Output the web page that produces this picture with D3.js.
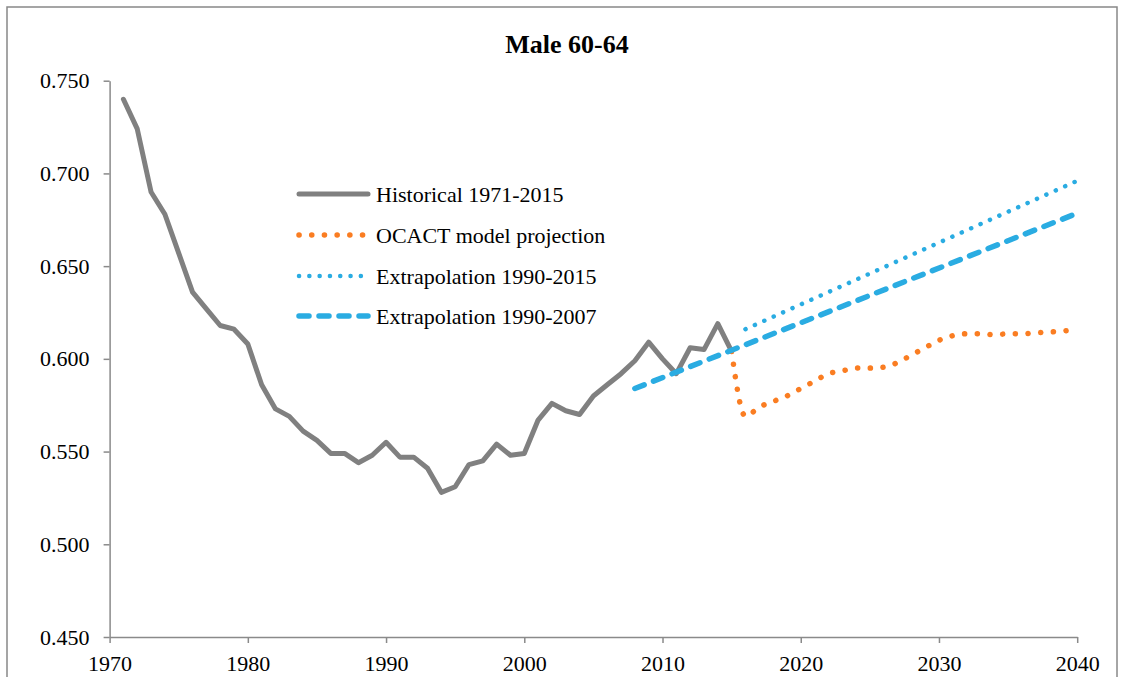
<!DOCTYPE html>
<html>
<head>
<meta charset="utf-8">
<script src="https://cdn.jsdelivr.net/npm/d3@7"></script>
<style>
  body { margin: 0; background: #fff; }
  svg text { font-family: "Liberation Serif", "DejaVu Serif", serif; fill: #000; }
</style>
</head>
<body>
<div id="chart"></div>
<script>
// Historical labour force participation, male 60-64
const histStart = 1971;
const histValues = [0.740, 0.724, 0.690, 0.678, 0.657, 0.636, 0.627, 0.618, 0.616, 0.608,
                    0.586, 0.573, 0.569, 0.561, 0.556, 0.549, 0.549, 0.544, 0.548, 0.555,
                    0.547, 0.547, 0.541, 0.528, 0.531, 0.543, 0.545, 0.554, 0.548, 0.549,
                    0.567, 0.576, 0.572, 0.570, 0.580, 0.586, 0.592, 0.599, 0.609, 0.600,
                    0.592, 0.606, 0.605, 0.619, 0.604];

// OCACT model projection, 2015-2040
const ocactStart = 2015;
const ocactValues = [0.604, 0.569, 0.574, 0.577, 0.580, 0.584, 0.588, 0.592, 0.5935, 0.595,
                     0.595, 0.5955, 0.598, 0.602, 0.606, 0.610, 0.6125, 0.6135, 0.6135, 0.613,
                     0.6135, 0.6135, 0.614, 0.6145, 0.615, 0.616];

// Linear extrapolations (end points)
const ext2015Years = [2016, 2040];
const ext2015Values = [0.616, 0.696];
const ext2007Years = [2008, 2040];
const ext2007Values = [0.584, 0.6785];

const xTicks = [1970, 1980, 1990, 2000, 2010, 2020, 2030, 2040];
const yTicks = [0.450, 0.500, 0.550, 0.600, 0.650, 0.700, 0.750];

const legendLabels = ["Historical 1971-2015", "OCACT model projection",
                      "Extrapolation 1990-2015", "Extrapolation 1990-2007"];

const width = 1122, height = 677;
const plot = { left: 109.6, right: 1077.2, top: 80.7, bottom: 637 };

const svg = d3.select("#chart").append("svg")
    .attr("width", width)
    .attr("height", height);

// chart frame
svg.append("rect")
    .attr("x", 7).attr("y", 7)
    .attr("width", 1110).attr("height", 700)
    .attr("fill", "#fff")
    .attr("stroke", "#888")
    .attr("stroke-width", 1.5);

const x = d3.scaleLinear().domain([1970, 2040]).range([plot.left, plot.right]);
const y = d3.scaleLinear().domain([0.45, 0.75]).range([plot.bottom, plot.top]);

// title
svg.append("text")
    .attr("x", 567).attr("y", 53)
    .attr("text-anchor", "middle")
    .style("font-size", "26px")
    .style("font-weight", "bold")
    .text("Male 60-64");

// axes
const yAxis = svg.append("g")
    .attr("transform", `translate(${plot.left},0)`)
    .call(d3.axisLeft(y).tickValues(yTicks).tickFormat(d3.format(".3f"))
        .tickSize(6).tickSizeOuter(0).tickPadding(14));

const xAxis = svg.append("g")
    .attr("transform", `translate(0,${plot.bottom})`)
    .call(d3.axisBottom(x).tickValues(xTicks).tickFormat(d3.format("d"))
        .tickSize(6).tickSizeOuter(0).tickPadding(12));

[xAxis, yAxis].forEach(g => {
    g.select(".domain").attr("stroke", "#8a8a8a").attr("stroke-width", 1.5);
    g.selectAll(".tick line").attr("stroke", "#8a8a8a").attr("stroke-width", 1.5);
    g.selectAll(".tick text").style("font-size", "22px")
        .style("font-family", "'Liberation Serif', serif").attr("fill", "#000");
});

// series
const series = [
    { years: histValues.map((_, i) => histStart + i), values: histValues,
      color: "#808080", width: 5, dash: null, cap: "round", curve: d3.curveLinear },
    { years: ocactValues.map((_, i) => ocactStart + i), values: ocactValues,
      color: "#FA7D22", width: 5.5, dash: "0.1 12.6", cap: "round", curve: d3.curveMonotoneX },
    { years: ext2015Years, values: ext2015Values,
      color: "#2AACE2", width: 4.5, dash: "0.1 10.2", cap: "round", curve: d3.curveLinear },
    { years: ext2007Years, values: ext2007Values,
      color: "#2AACE2", width: 5.5, dash: "10 10", cap: "round", curve: d3.curveLinear }
];

const line = d3.line().x(d => x(d[0])).y(d => y(d[1]));

series.forEach(s => {
    const pts = s.years.map((yr, i) => [yr, s.values[i]]);
    svg.append("path")
        .datum(pts)
        .attr("fill", "none")
        .attr("stroke", s.color)
        .attr("stroke-width", s.width)
        .attr("stroke-linecap", s.cap)
        .attr("stroke-linejoin", "round")
        .attr("stroke-dasharray", s.dash)
        .attr("d", line.curve(s.curve));
});

// legend
const legend = svg.append("g").attr("class", "legend");
const legendRows = [194, 235, 276, 316];
series.forEach((s, i) => {
    const ly = legendRows[i];
    legend.append("line")
        .attr("x1", 299).attr("x2", 368)
        .attr("y1", ly).attr("y2", ly)
        .attr("stroke", s.color)
        .attr("stroke-width", s.width)
        .attr("stroke-linecap", s.cap)
        .attr("stroke-dasharray", s.dash);
    legend.append("text")
        .attr("x", 376).attr("y", ly)
        .attr("dy", "0.35em")
        .style("font-size", "22px")
        .text(legendLabels[i]);
});
</script>
</body>
</html>
